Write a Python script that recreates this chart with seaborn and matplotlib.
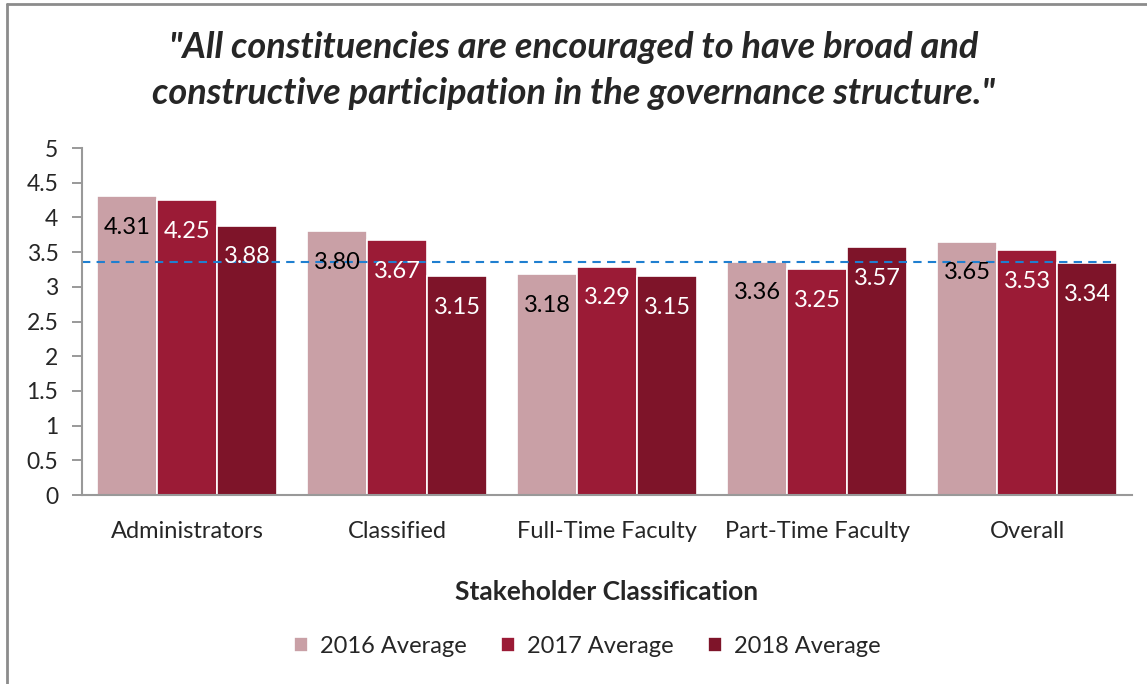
import pandas as pd
import matplotlib
matplotlib.use('Agg')
import matplotlib.pyplot as plt
import seaborn as sns
from matplotlib.lines import Line2D

# data
groups = ['Administrators', 'Classified', 'Full-Time Faculty', 'Part-Time Faculty', 'Overall']
years = ['2016 Average', '2017 Average', '2018 Average']
avg_2016 = [4.31, 3.80, 3.18, 3.36, 3.65]
avg_2017 = [4.25, 3.67, 3.29, 3.25, 3.53]
avg_2018 = [3.88, 3.15, 3.15, 3.57, 3.34]
benchmark = 3.36
colors = ['#C9A0A6', '#9B1B36', '#7E1429']

df = pd.DataFrame({
    'Group': groups * 3,
    'Year': [years[0]] * 5 + [years[1]] * 5 + [years[2]] * 5,
    'Score': avg_2016 + avg_2017 + avg_2018,
})

sns.set_style('white')
plt.rcParams['font.family'] = ['Lato', 'DejaVu Sans']

fig = plt.figure(figsize=(11.47, 6.84), dpi=100)
ax = fig.add_axes([0.0715, 0.2763, 0.9155, 0.5073])

sns.barplot(data=df, x='Group', y='Score', hue='Year', palette=colors,
            width=0.857, edgecolor='white', linewidth=1.2, saturation=1,
            errorbar=None, ax=ax)

ax.set_ylim(0, 5)
ax.set_xlim(-0.5, 4.5)
ax.set_yticks([0, 0.5, 1, 1.5, 2, 2.5, 3, 3.5, 4, 4.5, 5])
ax.set_yticklabels(['0', '0.5', '1', '1.5', '2', '2.5', '3', '3.5', '4', '4.5', '5'])
ax.tick_params(axis='y', length=7, width=1.2, color='#888888', labelsize=16.5, left=True, pad=10)
ax.tick_params(axis='x', length=0, labelsize=17, pad=19)
for s in ['top', 'right']:
    ax.spines[s].set_visible(False)
for s in ['left', 'bottom']:
    ax.spines[s].set_color('#999999')
    ax.spines[s].set_linewidth(1.5)

# value labels inside the bar tops
label_colors = ['black', 'white', 'white']
for cont, lc in zip(ax.containers, label_colors):
    ax.bar_label(cont, fmt='%.2f', label_type='edge', padding=-30,
                 color=lc, fontsize=17)

ax.axhline(benchmark, xmin=0, xmax=0.98, color='#1F7FD0', linestyle=(0, (4, 3)), linewidth=1.5)

ax.set_xlabel('Stakeholder Classification', fontsize=19, fontweight='bold', labelpad=27)
ax.set_ylabel('')

fig.suptitle('"All constituencies are encouraged to have broad and\nconstructive participation in the governance structure."',
             x=0.5, y=0.955, fontsize=26, fontweight='bold', fontstyle='italic', linespacing=1.5)

ax.legend(loc='upper center', bbox_to_anchor=(0.481, -0.345), ncol=3, frameon=False,
          fontsize=17, handlelength=0.6, handleheight=0.6, columnspacing=1.45, handletextpad=0.5)

# outer frame (left and top edges)
fig.add_artist(Line2D([0.0065, 0.0065], [0, 0.994], transform=fig.transFigure, color='#8C8C8C', linewidth=2))
fig.add_artist(Line2D([0.0065, 1], [0.994, 0.994], transform=fig.transFigure, color='#8C8C8C', linewidth=2))

fig.savefig('out.png', dpi=100)
